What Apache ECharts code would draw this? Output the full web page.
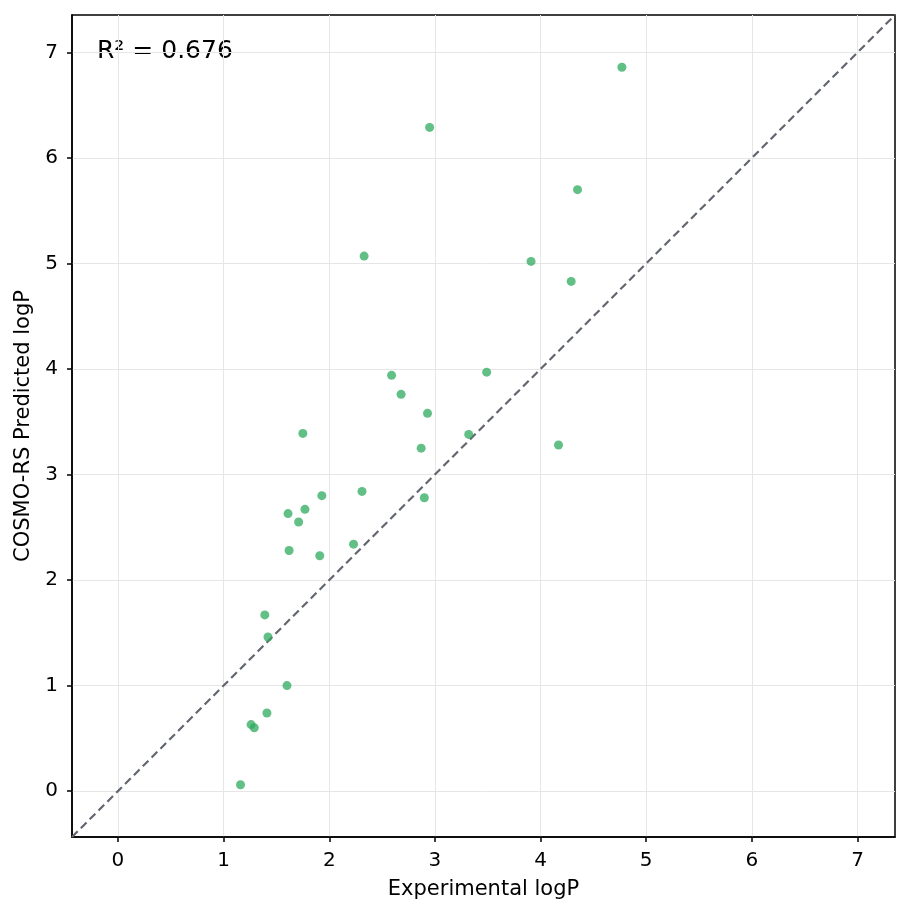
<!DOCTYPE html>
<html>
<head>
<meta charset="utf-8">
<script src="https://cdn.jsdelivr.net/npm/echarts@6/dist/echarts.min.js"></script>
<style>
  html, body { margin: 0; padding: 0; background: #fff; }
  #chart { width: 909px; height: 917px; }
</style>
</head>
<body>
<div id="chart"></div>
<script>
// 实验值 vs COSMO-RS 预测值
const experimentalLogP = [4.77, 2.95, 4.35, 2.33, 3.91, 4.29, 2.59, 3.49, 2.68, 2.93,
  1.75, 3.32, 4.17, 2.87, 2.31, 1.93, 2.90, 1.77, 1.61, 1.71,
  2.23, 1.62, 1.91, 1.39, 1.42, 1.60, 1.41, 1.26, 1.29, 1.16];
const predictedLogP = [6.86, 6.29, 5.70, 5.07, 5.02, 4.83, 3.94, 3.97, 3.76, 3.58,
  3.39, 3.38, 3.28, 3.25, 2.84, 2.80, 2.78, 2.67, 2.63, 2.55,
  2.34, 2.28, 2.23, 1.67, 1.46, 1.00, 0.74, 0.63, 0.60, 0.06];
const tickValues = [0, 1, 2, 3, 4, 5, 6, 7];
const axisRange = [-0.435, 7.355];
const r2Text = 'R² = 0.676';

const points = experimentalLogP.map((x, i) => [x, predictedLogP[i]]);
const identityLine = [[axisRange[0], axisRange[0]], [axisRange[1], axisRange[1]]];

const fontFamily = 'DejaVu Sans';

function makeAxis(name, isY) {
  return {
    type: 'value',
    min: axisRange[0],
    max: axisRange[1],
    name: name,
    nameLocation: 'middle',
    nameGap: isY ? 36 : 42,
    nameTextStyle: { fontFamily, fontSize: 21, color: '#000' },
    axisLine: { show: true, onZero: false, lineStyle: { color: '#000', width: 1.5 } },
    axisTick: { show: true, length: 5, customValues: tickValues, lineStyle: { color: '#000', width: 1.5 } },
    axisLabel: { customValues: tickValues, fontFamily, fontSize: 20, color: '#000', margin: isY ? 14 : 14 },
    splitLine: { show: true, customValues: tickValues, lineStyle: { color: '#e6e6e6', width: 1 } }
  };
}

const myChart = echarts.init(document.getElementById('chart'));

const option = {
  animation: false,
  backgroundColor: '#fff',
  grid: {
    left: 72, right: 14, top: 15, bottom: 80,
    show: true, borderColor: '#000', borderWidth: 1.5
  },
  xAxis: makeAxis('Experimental logP', false),
  yAxis: makeAxis('COSMO-RS Predicted logP', true),
  graphic: [{
    type: 'text',
    left: 97,
    top: 39,
    style: { text: r2Text, font: '25px "DejaVu Sans"', fill: '#000' }
  }],
  series: [
    {
      type: 'line',
      data: identityLine,
      symbol: 'none',
      lineStyle: { color: '#62666f', width: 2.2, type: [8, 4.5] },
      z: 2
    },
    {
      type: 'scatter',
      data: points,
      symbolSize: 9,
      itemStyle: { color: '#2eaa5e', opacity: 0.75 },
      z: 3
    }
  ]
};

myChart.setOption(option);
</script>
</body>
</html>
